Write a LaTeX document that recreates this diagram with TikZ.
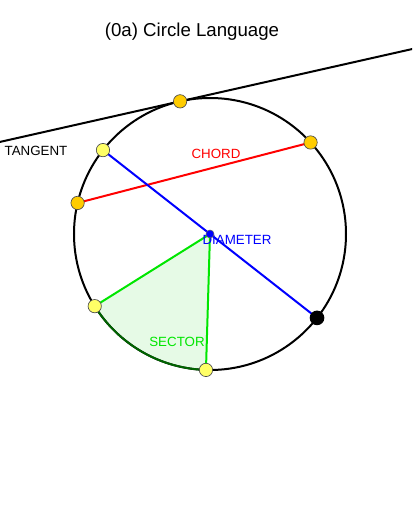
\documentclass[tikz,border=0pt]{standalone}
\usepackage{fontspec}
\setmainfont{Liberation Sans}
\usetikzlibrary{calc}
\definecolor{gold}{RGB}{255,204,0}
\definecolor{lyellow}{RGB}{255,255,102}
\definecolor{lgreen}{RGB}{0,230,0}
\definecolor{dgreen}{RGB}{0,100,0}
\definecolor{sfill}{RGB}{230,250,230}
\tikzset{
  pt/.style={circle,draw=black!70,line width=0.5pt,inner sep=0pt,minimum size=10pt},
  goldpt/.style={pt,fill=gold},
  yelpt/.style={pt,fill=lyellow},
  lbl/.style={font=\fontsize{10}{12}\selectfont,inner sep=0pt},
  seg/.style={line width=1.5pt}
}
\begin{document}
\begin{tikzpicture}[x=0.75pt,y=0.75pt]
\useasboundingbox (0,0) rectangle (412,512);
\begin{scope}
\clip (0,0) rectangle (412,512);
\coordinate (c) at (210,278);
\coordinate (T) at ($(c)+(102.7:102pt)$);
\coordinate (D1) at ($(c)+(141.9:102pt)$);
\coordinate (D2) at ($(c)+(321.9:102pt)$);
\coordinate (C1) at ($(c)+(42.3:102pt)$);
\coordinate (C2) at ($(c)+(166.8:102pt)$);
\coordinate (S1) at ($(c)+(212.05:102pt)$);
\coordinate (S2) at ($(c)+(268.3:102pt)$);
\coordinate (TL) at ($(T)+(192.7:160pt)$);
\coordinate (TR) at ($(T)+(12.7:200pt)$);
% sector fill
\fill[sfill] (c) -- (S1) arc[start angle=212.05,end angle=268.3,radius=102pt] -- cycle;
% circle
\draw[line width=1.5pt] (c) circle[radius=102pt];
% sector arc
\draw[dgreen,line width=1.5pt] (S1) arc[start angle=212.05,end angle=268.3,radius=102pt];
% tangent
\draw[line width=1.5pt] (TL) -- (TR);
% chord
\draw[seg,red] (C1) -- (C2);
% diameter
\draw[seg,blue] (D1) -- (D2);
% sector radii
\draw[seg,lgreen] (S1) -- (c) -- (S2);
% labels
\node[lbl] (lt) at (36,361) {TANGENT};
\node[lbl,text=red] (lc) at (216,358) {CHORD};
\node[lbl,text=blue] (ld) at (237,272) {DIAMETER};
\node[lbl,text=lgreen] (ls) at (177,170) {SECTOR};
% points
\node[circle,fill=blue,draw=black!60,line width=0.4pt,inner sep=0pt,minimum size=6pt] (cc) at (c) {};
\node[goldpt] (pT) at (T) {};
\node[goldpt] (pC1) at (C1) {};
\node[goldpt] (pC2) at (C2) {};
\node[yelpt] (pD1) at (D1) {};
\node[circle,fill=black,inner sep=0pt,minimum size=11pt] (pD2) at (D2) {};
\node[yelpt] (pS1) at (S1) {};
\node[yelpt] (pS2) at (S2) {};
\end{scope}
\node[font=\fontsize{14}{16}\selectfont,inner sep=0pt] (title) at (192,480.5) {(0a) Circle Language};
\end{tikzpicture}
\end{document}
